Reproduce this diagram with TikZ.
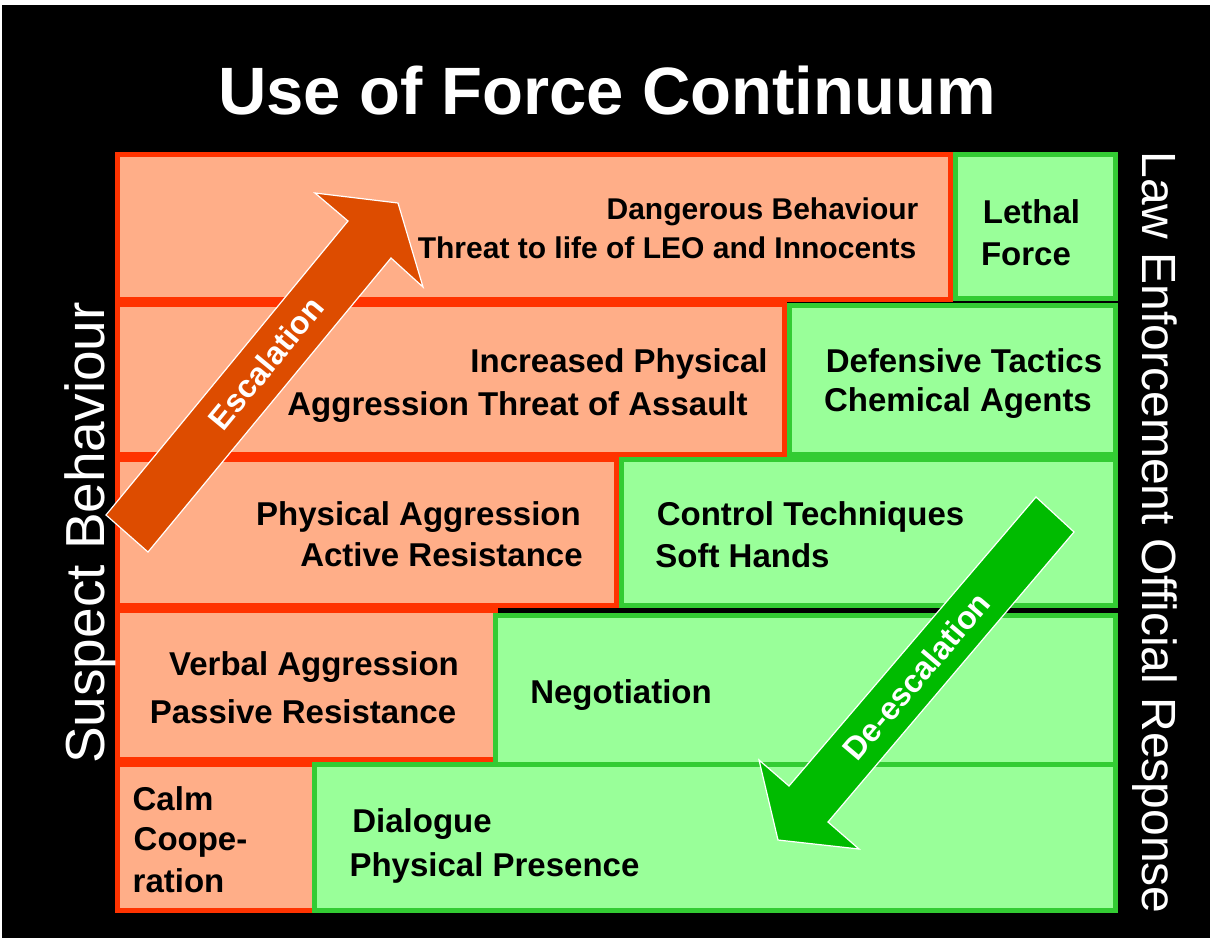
\documentclass[tikz,border=0pt]{standalone}
\usepackage{fontspec}
\setmainfont{Liberation Sans}[Ligatures=NoCommon]
\definecolor{peach}{HTML}{FFAE88}
\definecolor{redline}{HTML}{FF3300}
\definecolor{mint}{HTML}{99FF99}
\definecolor{greenline}{HTML}{33CC33}
\definecolor{escfill}{HTML}{DD4C00}
\definecolor{descfill}{HTML}{00BB00}
\tikzset{
  suspectbox/.style={fill=peach, draw=redline, line width=5pt},
  responsebox/.style={fill=mint, draw=greenline, line width=5pt},
  lbl/.style={anchor=base, inner sep=0pt, text=black, font=\bfseries\fontsize{33}{40}\selectfont},
  lblsmall/.style={lbl, font=\bfseries\fontsize{30}{36}\selectfont},
  sidelbl/.style={anchor=base, inner sep=0pt, text=white},
  bigarrow/.style={draw=white, line width=1.2pt, line join=miter},
  arrowlbl/.style={anchor=center, inner sep=0pt, text=white, font=\bfseries\fontsize{32}{38}\selectfont}
}
\begin{document}
\begin{tikzpicture}[x=1pt, y=-1pt]
\useasboundingbox (0,0) rectangle (1210,938);
% page and dark backdrop
\fill[white] (0,0) rectangle (1210,938);
\fill[black] (2,5) rectangle (1210,938);

% title
\node[sidelbl, font=\bfseries\fontsize{67}{80}\selectfont] (title) at (607,114) {Use of Force Continuum};

% stepped rows: suspect behaviour (left) and official response (right)
\draw[suspectbox]  (117.5,154.5) rectangle (950.5,299.5);
\draw[responsebox] (955.5,154.5) rectangle (1115.5,298.5);
\draw[suspectbox]  (117.5,304.5) rectangle (784.5,454.5);
\draw[responsebox] (789.5,305.5) rectangle (1115.5,454.5);
\draw[suspectbox]  (117.5,459.5) rectangle (616.5,605.5);
\draw[responsebox] (621.5,459.5) rectangle (1115.5,605.5);
\draw[suspectbox]  (117.5,610.5) rectangle (495.5,759.5);
\draw[responsebox] (495.5,615.5) rectangle (1115.5,764.5);
\draw[suspectbox]  (117.5,764.5) rectangle (314.5,910.5);
\draw[responsebox] (314.5,764.5) rectangle (1115.5,910.5);

% row texts
\node[lblsmall] (dangA) at (762.5,219) {Dangerous Behaviour};
\node[lblsmall] (dangB) at (667,258) {Threat to life of LEO and Innocents};
\node[lbl] (lethA) at (1031.5,223) {Lethal};
\node[lbl] (lethB) at (1026,265) {Force};
\node[lbl] (incA) at (619,372) {Increased Physical};
\node[lbl] (incB) at (517.5,415) {Aggression Threat of Assault};
\node[lbl] (defA) at (964,372) {Defensive Tactics};
\node[lbl] (defB) at (958,411) {Chemical Agents};
\node[lbl] (physA) at (418.5,525) {Physical Aggression};
\node[lbl] (physB) at (441.5,566) {Active Resistance};
\node[lbl] (ctrlA) at (810.5,525) {Control Techniques};
\node[lbl] (ctrlB) at (742.5,567) {Soft Hands};
\node[lbl] (verbA) at (314,675) {Verbal Aggression};
\node[lbl] (verbB) at (303,723) {Passive Resistance};
\node[lbl] (nego) at (621,703) {Negotiation};
\node[lbl] (calmA) at (173,810) {Calm};
\node[lbl] (calmB) at (190.5,850) {Coope-};
\node[lbl] (calmC) at (178.5,892) {ration};
\node[lbl] (dialA) at (422,832) {Dialogue};
\node[lbl] (dialB) at (494.5,876) {Physical Presence};

% axis captions
\node[sidelbl, rotate=90, font=\fontsize{55}{66}\selectfont] (suspect) at (104,533) {Suspect Behaviour};
\node[sidelbl, rotate=-90, font=\fontsize{48}{58}\selectfont] (officer) at (1142,532.5) {Law Enforcement Official Response};

% escalation arrow
\draw[bigarrow, fill=escfill] (106,515) -- (348,221) -- (315,193) -- (398,203)
  -- (423,287) -- (391,258) -- (148,552) -- cycle;
\node[arrowlbl, rotate=50.5] (esc) at (266,363) {Escalation};

% de-escalation arrow
\draw[bigarrow, fill=descfill] (1036,497) -- (1074,532) -- (828,822) -- (859,849)
  -- (778,840) -- (759,760) -- (789,786) -- cycle;
\node[arrowlbl, rotate=49.6] (desc) at (916.5,676) {De-escalation};
\end{tikzpicture}
\end{document}
